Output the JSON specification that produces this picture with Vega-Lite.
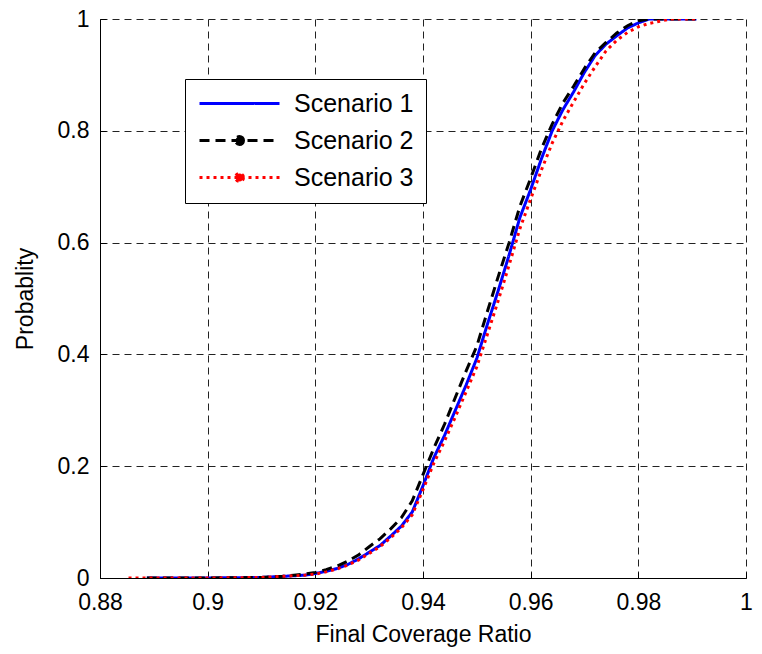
{
  "$schema": "https://vega.github.io/schema/vega-lite/v6.json",
  "width": 646,
  "height": 559,
  "autosize": {"type": "none"},
  "padding": {"left": 100, "top": 19, "right": 16, "bottom": 76},
  "background": "white",
  "config": {
    "view": {"stroke": null},
    "font": "Liberation Sans",
    "axis": {
      "labelFont": "Liberation Sans",
      "titleFont": "Liberation Sans",
      "labelFontSize": 23,
      "titleFontSize": 23,
      "titleFontWeight": "normal",
      "labelColor": "#000",
      "titleColor": "#000",
      "domainColor": "#000",
      "domainWidth": 1,
      "tickColor": "#000",
      "tickSize": -6,
      "gridColor": "#222",
      "gridDash": [7, 5],
      "gridWidth": 1,
      "gridOpacity": 1
    },
    "legend": {
      "labelFont": "Liberation Sans"
    }
  },
  "data": {
    "values": [
      {"scenario": "Scenario 1", "x": 0.8887, "y": 0},
      {"scenario": "Scenario 1", "x": 0.900, "y": 0},
      {"scenario": "Scenario 1", "x": 0.910, "y": 0.001},
      {"scenario": "Scenario 1", "x": 0.912, "y": 0.002},
      {"scenario": "Scenario 1", "x": 0.914, "y": 0.003},
      {"scenario": "Scenario 1", "x": 0.916, "y": 0.004},
      {"scenario": "Scenario 1", "x": 0.918, "y": 0.005},
      {"scenario": "Scenario 1", "x": 0.920, "y": 0.008},
      {"scenario": "Scenario 1", "x": 0.922, "y": 0.012},
      {"scenario": "Scenario 1", "x": 0.924, "y": 0.017},
      {"scenario": "Scenario 1", "x": 0.926, "y": 0.024},
      {"scenario": "Scenario 1", "x": 0.928, "y": 0.034},
      {"scenario": "Scenario 1", "x": 0.930, "y": 0.046},
      {"scenario": "Scenario 1", "x": 0.932, "y": 0.058},
      {"scenario": "Scenario 1", "x": 0.934, "y": 0.075},
      {"scenario": "Scenario 1", "x": 0.936, "y": 0.093},
      {"scenario": "Scenario 1", "x": 0.938, "y": 0.118},
      {"scenario": "Scenario 1", "x": 0.940, "y": 0.165},
      {"scenario": "Scenario 1", "x": 0.942, "y": 0.215},
      {"scenario": "Scenario 1", "x": 0.944, "y": 0.255},
      {"scenario": "Scenario 1", "x": 0.946, "y": 0.300},
      {"scenario": "Scenario 1", "x": 0.948, "y": 0.345},
      {"scenario": "Scenario 1", "x": 0.950, "y": 0.393},
      {"scenario": "Scenario 1", "x": 0.952, "y": 0.455},
      {"scenario": "Scenario 1", "x": 0.954, "y": 0.515},
      {"scenario": "Scenario 1", "x": 0.956, "y": 0.578},
      {"scenario": "Scenario 1", "x": 0.958, "y": 0.645},
      {"scenario": "Scenario 1", "x": 0.960, "y": 0.695},
      {"scenario": "Scenario 1", "x": 0.962, "y": 0.750},
      {"scenario": "Scenario 1", "x": 0.964, "y": 0.800},
      {"scenario": "Scenario 1", "x": 0.966, "y": 0.838},
      {"scenario": "Scenario 1", "x": 0.968, "y": 0.870},
      {"scenario": "Scenario 1", "x": 0.970, "y": 0.905},
      {"scenario": "Scenario 1", "x": 0.972, "y": 0.935},
      {"scenario": "Scenario 1", "x": 0.974, "y": 0.955},
      {"scenario": "Scenario 1", "x": 0.976, "y": 0.970},
      {"scenario": "Scenario 1", "x": 0.978, "y": 0.984},
      {"scenario": "Scenario 1", "x": 0.980, "y": 0.993},
      {"scenario": "Scenario 1", "x": 0.982, "y": 1.0},
      {"scenario": "Scenario 1", "x": 0.9908, "y": 1.0},

      {"scenario": "Scenario 2", "x": 0.8887, "y": 0},
      {"scenario": "Scenario 2", "x": 0.900, "y": 0},
      {"scenario": "Scenario 2", "x": 0.910, "y": 0.001},
      {"scenario": "Scenario 2", "x": 0.912, "y": 0.002},
      {"scenario": "Scenario 2", "x": 0.914, "y": 0.003},
      {"scenario": "Scenario 2", "x": 0.916, "y": 0.005},
      {"scenario": "Scenario 2", "x": 0.918, "y": 0.007},
      {"scenario": "Scenario 2", "x": 0.920, "y": 0.010},
      {"scenario": "Scenario 2", "x": 0.922, "y": 0.015},
      {"scenario": "Scenario 2", "x": 0.924, "y": 0.021},
      {"scenario": "Scenario 2", "x": 0.926, "y": 0.030},
      {"scenario": "Scenario 2", "x": 0.928, "y": 0.041},
      {"scenario": "Scenario 2", "x": 0.930, "y": 0.056},
      {"scenario": "Scenario 2", "x": 0.932, "y": 0.070},
      {"scenario": "Scenario 2", "x": 0.934, "y": 0.088},
      {"scenario": "Scenario 2", "x": 0.936, "y": 0.108},
      {"scenario": "Scenario 2", "x": 0.938, "y": 0.138},
      {"scenario": "Scenario 2", "x": 0.940, "y": 0.185},
      {"scenario": "Scenario 2", "x": 0.942, "y": 0.232},
      {"scenario": "Scenario 2", "x": 0.944, "y": 0.275},
      {"scenario": "Scenario 2", "x": 0.946, "y": 0.323},
      {"scenario": "Scenario 2", "x": 0.948, "y": 0.370},
      {"scenario": "Scenario 2", "x": 0.950, "y": 0.415},
      {"scenario": "Scenario 2", "x": 0.952, "y": 0.478},
      {"scenario": "Scenario 2", "x": 0.954, "y": 0.540},
      {"scenario": "Scenario 2", "x": 0.956, "y": 0.600},
      {"scenario": "Scenario 2", "x": 0.958, "y": 0.665},
      {"scenario": "Scenario 2", "x": 0.960, "y": 0.715},
      {"scenario": "Scenario 2", "x": 0.962, "y": 0.768},
      {"scenario": "Scenario 2", "x": 0.964, "y": 0.812},
      {"scenario": "Scenario 2", "x": 0.966, "y": 0.850},
      {"scenario": "Scenario 2", "x": 0.968, "y": 0.880},
      {"scenario": "Scenario 2", "x": 0.970, "y": 0.912},
      {"scenario": "Scenario 2", "x": 0.972, "y": 0.940},
      {"scenario": "Scenario 2", "x": 0.974, "y": 0.958},
      {"scenario": "Scenario 2", "x": 0.976, "y": 0.975},
      {"scenario": "Scenario 2", "x": 0.978, "y": 0.988},
      {"scenario": "Scenario 2", "x": 0.980, "y": 0.997},
      {"scenario": "Scenario 2", "x": 0.982, "y": 1.0},
      {"scenario": "Scenario 2", "x": 0.9908, "y": 1.0},

      {"scenario": "Scenario 3", "x": 0.8853, "y": 0},
      {"scenario": "Scenario 3", "x": 0.900, "y": 0},
      {"scenario": "Scenario 3", "x": 0.910, "y": 0.001},
      {"scenario": "Scenario 3", "x": 0.912, "y": 0.002},
      {"scenario": "Scenario 3", "x": 0.914, "y": 0.003},
      {"scenario": "Scenario 3", "x": 0.916, "y": 0.004},
      {"scenario": "Scenario 3", "x": 0.918, "y": 0.005},
      {"scenario": "Scenario 3", "x": 0.920, "y": 0.007},
      {"scenario": "Scenario 3", "x": 0.922, "y": 0.011},
      {"scenario": "Scenario 3", "x": 0.924, "y": 0.016},
      {"scenario": "Scenario 3", "x": 0.926, "y": 0.023},
      {"scenario": "Scenario 3", "x": 0.928, "y": 0.032},
      {"scenario": "Scenario 3", "x": 0.930, "y": 0.044},
      {"scenario": "Scenario 3", "x": 0.932, "y": 0.056},
      {"scenario": "Scenario 3", "x": 0.934, "y": 0.072},
      {"scenario": "Scenario 3", "x": 0.936, "y": 0.090},
      {"scenario": "Scenario 3", "x": 0.938, "y": 0.113},
      {"scenario": "Scenario 3", "x": 0.940, "y": 0.158},
      {"scenario": "Scenario 3", "x": 0.942, "y": 0.205},
      {"scenario": "Scenario 3", "x": 0.944, "y": 0.245},
      {"scenario": "Scenario 3", "x": 0.946, "y": 0.288},
      {"scenario": "Scenario 3", "x": 0.948, "y": 0.333},
      {"scenario": "Scenario 3", "x": 0.950, "y": 0.378},
      {"scenario": "Scenario 3", "x": 0.952, "y": 0.437},
      {"scenario": "Scenario 3", "x": 0.954, "y": 0.497},
      {"scenario": "Scenario 3", "x": 0.956, "y": 0.560},
      {"scenario": "Scenario 3", "x": 0.958, "y": 0.625},
      {"scenario": "Scenario 3", "x": 0.960, "y": 0.678},
      {"scenario": "Scenario 3", "x": 0.962, "y": 0.730},
      {"scenario": "Scenario 3", "x": 0.964, "y": 0.778},
      {"scenario": "Scenario 3", "x": 0.966, "y": 0.818},
      {"scenario": "Scenario 3", "x": 0.968, "y": 0.852},
      {"scenario": "Scenario 3", "x": 0.970, "y": 0.885},
      {"scenario": "Scenario 3", "x": 0.972, "y": 0.915},
      {"scenario": "Scenario 3", "x": 0.974, "y": 0.943},
      {"scenario": "Scenario 3", "x": 0.976, "y": 0.962},
      {"scenario": "Scenario 3", "x": 0.978, "y": 0.976},
      {"scenario": "Scenario 3", "x": 0.980, "y": 0.986},
      {"scenario": "Scenario 3", "x": 0.982, "y": 0.992},
      {"scenario": "Scenario 3", "x": 0.984, "y": 0.996},
      {"scenario": "Scenario 3", "x": 0.986, "y": 1.0},
      {"scenario": "Scenario 3", "x": 0.9908, "y": 1.0}
    ]
  },
  "mark": {"type": "line", "strokeWidth": 3, "clip": true},
  "encoding": {
    "x": {
      "field": "x",
      "type": "quantitative",
      "scale": {"domain": [0.88, 1], "nice": false, "zero": false},
      "axis": {
        "title": "Final Coverage Ratio",
        "values": [0.88, 0.9, 0.92, 0.94, 0.96, 0.98, 1],
        "format": "~g",
        "labelPadding": 19,
        "titlePadding": 9,
        "labelFlush": false
      }
    },
    "y": {
      "field": "y",
      "type": "quantitative",
      "scale": {"domain": [0, 1], "nice": false},
      "axis": {
        "title": "Probablity",
        "values": [0, 0.2, 0.4, 0.6, 0.8, 1],
        "format": "~g",
        "labelPadding": 17,
        "titlePadding": 20,
        "labelFlush": false
      }
    },
    "color": {
      "field": "scenario",
      "type": "nominal",
      "scale": {
        "domain": ["Scenario 1", "Scenario 2", "Scenario 3"],
        "range": ["#0000FF", "#000000", "#FF0000"]
      },
      "legend": {
        "title": null,
        "orient": "none",
        "legendX": 85,
        "legendY": 60,
        "symbolType": "M-1,0H7",
        "symbolSize": 400,
        "symbolStrokeWidth": 3,
        "labelFontSize": 25,
        "labelColor": "#000",
        "labelOffset": 72,
        "rowPadding": 11,
        "padding": 12,
        "strokeColor": "#000",
        "fillColor": "#fff",
        "encode": {
          "symbols": {
            "update": {
              "shape": {"signal": "datum.value === 'Scenario 1' ? 'M-1,0H7' : 'M-1,0H7M3.4,0A0.4,0.4 0 1,1 2.6,0A0.4,0.4 0 1,1 3.4,0Z'"},
              "fill": {"signal": "datum.value === 'Scenario 2' ? '#000000' : (datum.value === 'Scenario 3' ? '#FF0000' : 'transparent')"}
            }
          }
        }
      }
    },
    "strokeDash": {
      "field": "scenario",
      "type": "nominal",
      "scale": {
        "domain": ["Scenario 1", "Scenario 2", "Scenario 3"],
        "range": [[1, 0], [10, 6], [3, 4]]
      },
      "legend": null
    }
  }
}
